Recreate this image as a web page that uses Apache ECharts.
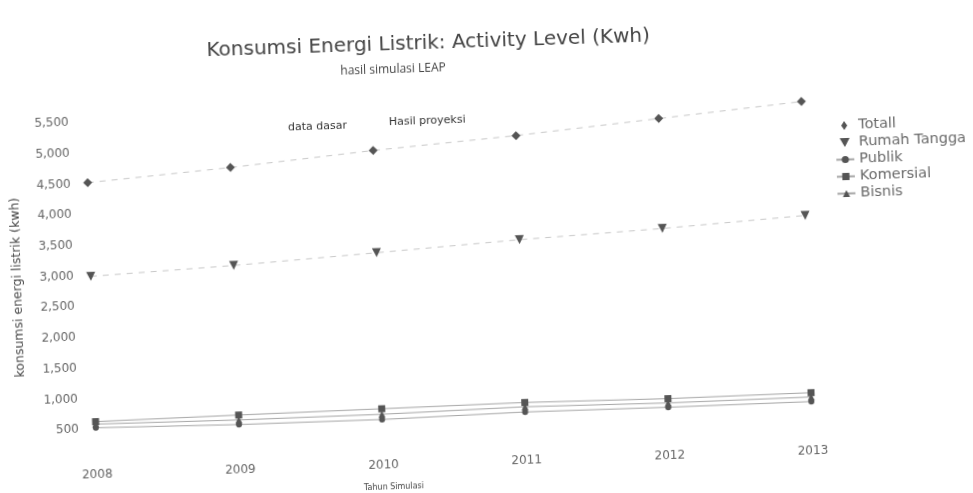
<!DOCTYPE html>
<html>
<head>
<meta charset="utf-8">
<script src="https://cdn.jsdelivr.net/npm/echarts@6/dist/echarts.min.js"></script>
<style>
  html, body { margin: 0; padding: 0; background: #fff; overflow: hidden; }
  #chart { width: 973px; height: 493px; transform: rotate(-1.9deg); transform-origin: 486px 246px; }
</style>
</head>
<body>
<div id="chart"></div>
<script>
// Tahun simulasi
const years = ['2008', '2009', '2010', '2011', '2012', '2013'];

// Konsumsi energi listrik per sektor (kWh)
const totalValues      = [4515, 4685, 4885, 5050, 5250, 5450];
const rumahTangga      = [2990, 3090, 3220, 3355, 3460, 3595];
const publik           = [525, 500, 505, 550, 550, 565];
const komersial        = [625, 655, 680, 705, 690, 710];
const bisnis           = [585, 575, 590, 635, 620, 640];

const seriesNames = ['Totall', 'Rumah Tangga', 'Publik', 'Komersial', 'Bisnis'];

const chart = echarts.init(document.getElementById('chart'));

const markColor = '#555';
const font = 'DejaVu Sans';
const downTriangle = 'path://M0,0 L10,0 L5,9 Z';
const diamond = 'path://M5,0 L9,6 L5,12 L1,6 Z';

function lineSeries(name, data, symbol, size, lineStyle, extra) {
  return Object.assign({
    name: name,
    type: 'line',
    data: data,
    symbol: symbol,
    symbolSize: size,
    itemStyle: { color: markColor },
    lineStyle: lineStyle,
    emphasis: { disabled: true },
    z: 3
  }, extra || {});
}

const dashed = { color: '#c9c9c9', width: 1, type: [6, 6] };
const solid = { color: '#a6a6a6', width: 1 };

chart.setOption({
  animation: false,
  backgroundColor: '#fff',
  title: [
    {
      text: 'Konsumsi Energi Listrik: Activity Level (Kwh)',
      left: 430, top: 27, textAlign: 'center',
      textStyle: { fontFamily: font, fontSize: 20, fontWeight: 'normal', color: '#444' }
    },
    {
      text: 'hasil simulasi LEAP',
      left: 394, top: 56, textAlign: 'center',
      textStyle: { fontFamily: 'Open Sans', fontSize: 12, fontWeight: 'normal', color: '#444' }
    }
  ],
  legend: {
    orient: 'vertical',
    left: 833, top: 125,
    itemGap: 2,
    itemWidth: 18, itemHeight: 9,
    symbolKeepAspect: true,
    data: [
      { name: seriesNames[0], icon: diamond, itemStyle: { color: markColor } },
      { name: seriesNames[1], icon: downTriangle, itemStyle: { color: markColor } },
      seriesNames[2], seriesNames[3], seriesNames[4]
    ],
    textStyle: { fontFamily: font, fontSize: 14.5, color: '#6a6a6a' }
  },
  grid: { left: 90, right: 167, top: 109, bottom: 46 },
  xAxis: {
    type: 'category',
    data: years,
    boundaryGap: false,
    axisLine: { show: false },
    axisTick: { show: false },
    axisLabel: { margin: 9, fontFamily: font, fontSize: 12, color: '#666' },
    splitLine: { show: false }
  },
  yAxis: {
    type: 'value',
    min: 0, max: 5500, interval: 500,
    axisLine: { show: false },
    axisTick: { show: false },
    splitLine: { show: false },
    axisLabel: {
      margin: 17, showMinLabel: false,
      fontFamily: font, fontSize: 12, color: '#666',
      formatter: v => v.toLocaleString('en-US')
    }
  },
  graphic: [
    { type: 'text', left: 292, top: 116, style: { text: 'data dasar', font: '11px "DejaVu Sans"', fill: '#333' } },
    { type: 'text', left: 393, top: 114, style: { text: 'Hasil proyeksi', font: '11px "DejaVu Sans"', fill: '#333' } },
    { type: 'text', x: 386, y: 484, style: { text: 'Tahun Simulasi', font: '8px "DejaVu Sans"', fill: '#444', align: 'center', verticalAlign: 'middle' } },
    { type: 'text', x: 17, y: 272, rotation: Math.PI / 2, style: { text: 'konsumsi energi listrik (kwh)', font: '12.5px "DejaVu Sans"', fill: '#444', align: 'center', verticalAlign: 'middle' } }
  ],
  series: [
    lineSeries('Totall', totalValues, diamond, 9, dashed),
    lineSeries('Rumah Tangga', rumahTangga, downTriangle, 9, dashed),
    lineSeries('Publik', publik, 'circle', 6, solid),
    lineSeries('Komersial', komersial, 'rect', 7, solid),
    lineSeries('Bisnis', bisnis, 'triangle', 7, solid)
  ]
});
</script>
</body>
</html>
